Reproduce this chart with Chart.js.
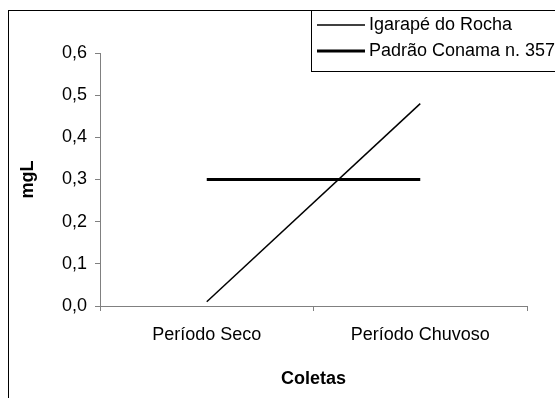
<!DOCTYPE html>
<html>
<head>
<meta charset="utf-8">
<script src="https://cdn.jsdelivr.net/npm/chart.js@4/dist/chart.umd.min.js"></script>
<style>
  html, body { margin: 0; padding: 0; background: #fff; }
  #wrap { width: 555px; height: 398px; }
</style>
</head>
<body>
<div id="wrap"><canvas id="grafico" width="555" height="398"></canvas></div>
<script>
// dados
const coletas   = ['Período Seco', 'Período Chuvoso'];
const igarape   = [0.01, 0.48];
const conama    = [0.3, 0.3];
const rotulos   = ['Igarapé do Rocha', 'Padrão Conama n. 357'];

const FONTE = 'Liberation Sans, Arial, sans-serif';

// moldura externa + legenda desenhada à mão (como no Excel)
const molduraLegenda = {
  id: 'molduraLegenda',
  afterDraw(chart) {
    const ctx = chart.ctx;
    ctx.save();
    ctx.strokeStyle = '#000';
    ctx.lineWidth = 1;
    ctx.strokeRect(8.5, 10.5, 700, 700);
    // caixa da legenda
    ctx.fillStyle = '#fff';
    ctx.fillRect(312, 11, 300, 60);
    ctx.strokeRect(311.5, 10.5, 300, 61);
    const linhas = [25, 51];
    chart.data.datasets.forEach((ds, i) => {
      ctx.beginPath();
      ctx.lineWidth = ds.borderWidth;
      ctx.strokeStyle = ds.borderColor;
      ctx.moveTo(317, linhas[i]);
      ctx.lineTo(365, linhas[i]);
      ctx.stroke();
      ctx.fillStyle = '#000';
      ctx.font = '18px ' + FONTE;
      ctx.textBaseline = 'middle';
      ctx.fillText(ds.label, 369, linhas[i]);
    });
    ctx.restore();
  }
};

const ctx = document.getElementById('grafico').getContext('2d');
new Chart(ctx, {
  type: 'line',
  data: {
    labels: coletas,
    datasets: [
      { label: rotulos[0], data: igarape, borderColor: '#000', borderWidth: 1.5, pointRadius: 0, tension: 0 },
      { label: rotulos[1], data: conama,  borderColor: '#000', borderWidth: 3, pointRadius: 0, tension: 0 }
    ]
  },
  options: {
    responsive: false,
    animation: false,
    layout: { padding: { left: 10, top: 53, right: 28, bottom: 0 } },
    plugins: { legend: { display: false }, tooltip: { enabled: false } },
    scales: {
      x: {
        offset: true,
        grid: { offset: true, drawOnChartArea: false, drawTicks: true, tickLength: 5, color: '#808080' },
        border: { color: '#808080', width: 1 },
        ticks: { color: '#000', padding: 13, font: { family: FONTE, size: 18 } },
        title: { display: true, text: 'Coletas', color: '#000', padding: { top: 0, bottom: 8 },
                 font: { family: FONTE, size: 18, weight: 'bold' } },
        afterFit(s) { s.height = 92; }
      },
      y: {
        min: 0, max: 0.6,
        grid: { drawOnChartArea: false, drawTicks: true, tickLength: 5, color: '#808080' },
        border: { color: '#808080', width: 1 },
        ticks: { stepSize: 0.1, color: '#000', padding: 8, font: { family: FONTE, size: 18 },
                 callback: v => v.toFixed(1).replace('.', ',') },
        title: { display: true, text: 'mgL', color: '#000', padding: { top: 7, bottom: 0 },
                 font: { family: FONTE, size: 18, weight: 'bold' } },
        afterFit(s) { s.width = 90; }
      }
    }
  },
  plugins: [molduraLegenda]
});
</script>
</body>
</html>
